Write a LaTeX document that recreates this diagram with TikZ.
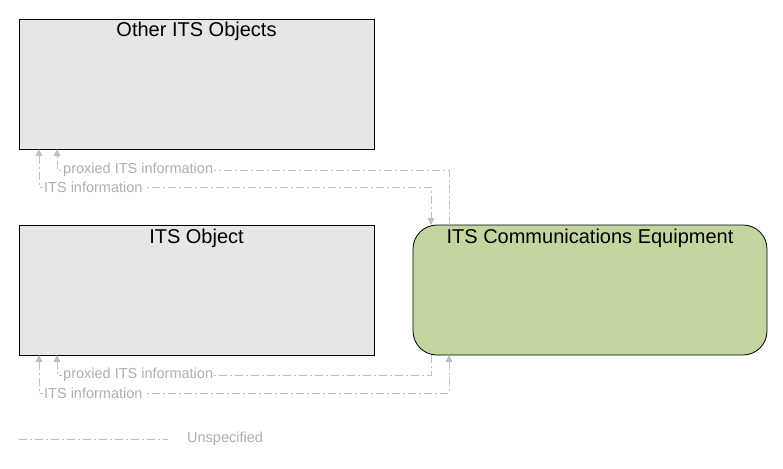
\documentclass[tikz,border=0pt]{standalone}
\usepackage{fontspec}
\setmainfont{Liberation Sans}
\usetikzlibrary{arrows.meta}
\definecolor{boxgray}{RGB}{230,230,230}
\definecolor{eqgreen}{RGB}{196,214,160}
\definecolor{flowgray}{RGB}{192,192,192}
\definecolor{labgray}{RGB}{175,175,175}
\begin{document}
\begin{tikzpicture}[x=1pt,y=-1pt,
  objbox/.style={draw=black,line width=0.8pt,fill=boxgray},
  eqbox/.style={draw=black,line width=0.8pt,fill=eqgreen,rounded corners=24pt},
  title/.style={font=\fontsize{20}{22}\selectfont,anchor=base,inner sep=0pt},
  flow/.style={draw=flowgray,line width=0.8pt,dash pattern=on 8pt off 3pt on 2pt off 3pt},
  arr/.style={-{Triangle[width=7pt,length=7pt]}},
  arrb/.style={{Triangle[width=7pt,length=7pt]}-{Triangle[width=7pt,length=7pt]}},
  flab/.style={font=\fontsize{14.5}{16}\selectfont,text=labgray,fill=white,inner sep=1pt,anchor=west}
]
\useasboundingbox (0,0) rectangle (783,468);
\fill[white] (0,0) rectangle (783,468);

\draw[objbox] (19,19) rectangle (374,149);
\node[title] (other) at (196.5,37) {Other ITS Objects};
\coordinate (otherS1) at (39,149);
\coordinate (otherS2) at (57,149);

\draw[objbox] (19,225) rectangle (374,355);
\node[title] (obj) at (196.5,243.5) {ITS Object};
\coordinate (objS1) at (39,355);
\coordinate (objS2) at (57,355);

\draw[eqbox] (413,225) rectangle (767,355);
\node[title] (comm) at (590,243.5) {ITS Communications Equipment};
\coordinate (commN1) at (431,225);
\coordinate (commN2) at (449,225);
\coordinate (commS1) at (431,355);
\coordinate (commS2) at (449,355);

% top flows
\draw[flow,arr] (commN2) -- (449,170) -- (57,170) -- (otherS2);
\draw[flow,arrb] (otherS1) -- (39,187) -- (431,187) -- (commN1);
\node[flab] (l1) at (62,170) {proxied ITS information};
\node[flab] (l2) at (43,187) {ITS information};

% bottom flows
\draw[flow,arr] (commS1) -- (431,375) -- (57,375) -- (objS2);
\draw[flow,arrb] (objS1) -- (39,393) -- (449,393) -- (commS2);
\node[flab] (l3) at (62,375) {proxied ITS information};
\node[flab] (l4) at (43,393) {ITS information};

% legend
\coordinate (legA) at (19,439);
\coordinate (legB) at (168,439);
\draw[flow] (legA) -- (legB);
\node[flab,fill=none] (leg) at (186,439) {Unspecified};
\end{tikzpicture}
\end{document}
